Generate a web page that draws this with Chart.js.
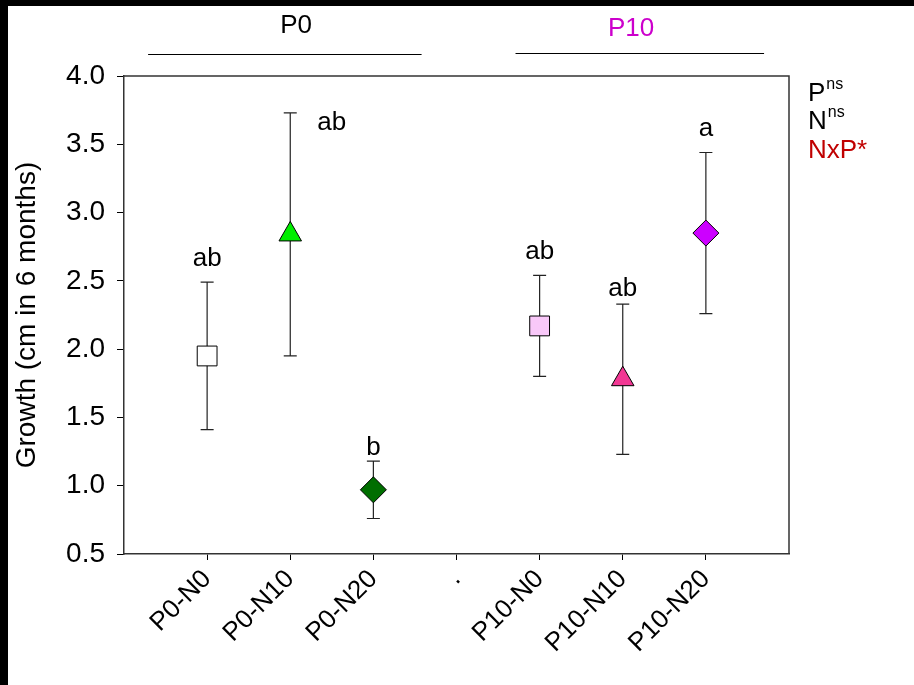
<!DOCTYPE html>
<html>
<head>
<meta charset="utf-8">
<script src="https://cdn.jsdelivr.net/npm/chart.js@4/dist/chart.umd.min.js"></script>
<style>
  html, body { margin: 0; padding: 0; background: #fff; }
  #wrap { width: 914px; height: 685px; }
</style>
</head>
<body>
<div id="wrap"><canvas id="graph" width="914" height="685"></canvas></div>
<script>
// Categories on the x axis ('.' is the empty gap between the two P groups)
var categories = ['P0-N0', 'P0-N10', 'P0-N20', '.', 'P10-N0', 'P10-N10', 'P10-N20'];

// Treatments actually measured
var treatments = ['P0-N0', 'P0-N10', 'P0-N20', 'P10-N0', 'P10-N10', 'P10-N20'];
var xPos = [1, 2, 3, 5, 6, 7];
var means = [1.95, 2.84, 0.97, 2.17, 1.78, 2.85];
var errors = [0.54, 0.89, 0.21, 0.37, 0.55, 0.59];

// Significance letters
var letters = ['ab', 'ab', 'b', 'ab', 'ab', 'a'];
var letterX = [1, 2.5, 3, 5, 6, 7];
var letterY = [2.66, 3.66, 1.28, 2.71, 2.44, 3.61];

// Marker look
var shapes = ['rect', 'triangle', 'rectRot', 'rect', 'triangle', 'rectRot'];
var sizes = [14, 13, 13, 14, 13, 13];
var fills = ['#ffffff', '#00ee00', '#006e00', '#f9c8f9', '#f23894', '#cc00ff'];

var yTicks = [0.5, 1.0, 1.5, 2.0, 2.5, 3.0, 3.5, 4.0];

var FONT = "'Liberation Sans', Arial, sans-serif";

var datasets = treatments.map(function (t, i) {
    return {
        label: t,
        data: [{ x: xPos[i], y: means[i], err: errors[i] }],
        pointStyle: shapes[i],
        pointRadius: sizes[i],
        pointHoverRadius: sizes[i],
        backgroundColor: fills[i],
        borderColor: '#000',
        borderWidth: 1
    };
});

// white page plus black strips on top and left edge
var pagePlugin = {
    id: 'page',
    beforeDraw: function (chart) {
        var ctx = chart.ctx;
        ctx.save();
        ctx.fillStyle = '#fff';
        ctx.fillRect(0, 0, chart.width, chart.height);
        ctx.fillStyle = '#000';
        ctx.fillRect(0, 0, chart.width, 6);
        ctx.fillRect(0, 0, 8, chart.height);
        ctx.restore();
    }
};

// error bars drawn under the markers
var errorBars = {
    id: 'errorBars',
    beforeDatasetsDraw: function (chart) {
        var ctx = chart.ctx, xs = chart.scales.x, ys = chart.scales.y;
        ctx.save();
        ctx.strokeStyle = '#222';
        ctx.lineWidth = 1.2;
        chart.data.datasets.forEach(function (ds) {
            ds.data.forEach(function (p) {
                var x = xs.getPixelForValue(p.x);
                var top = ys.getPixelForValue(p.y + p.err);
                var bot = ys.getPixelForValue(p.y - p.err);
                ctx.beginPath();
                ctx.moveTo(x, top); ctx.lineTo(x, bot);
                ctx.moveTo(x - 6.5, top); ctx.lineTo(x + 6.5, top);
                ctx.moveTo(x - 6.5, bot); ctx.lineTo(x + 6.5, bot);
                ctx.stroke();
            });
        });
        ctx.restore();
    }
};

// frame, letters, group headers and the stats note
var extras = {
    id: 'extras',
    afterDraw: function (chart) {
        var ctx = chart.ctx, a = chart.chartArea;
        var xs = chart.scales.x, ys = chart.scales.y;
        ctx.save();
        // top and right sides of the box
        ctx.strokeStyle = '#333';
        ctx.lineWidth = 1.5;
        ctx.beginPath();
        ctx.moveTo(a.left, a.top); ctx.lineTo(a.right, a.top); ctx.lineTo(a.right, a.bottom);
        ctx.stroke();

        // letters
        ctx.fillStyle = '#000';
        ctx.font = '26px ' + FONT;
        ctx.textAlign = 'center';
        ctx.textBaseline = 'middle';
        letters.forEach(function (l, i) {
            ctx.fillText(l, xs.getPixelForValue(letterX[i]), ys.getPixelForValue(letterY[i]));
        });

        // group headers
        ctx.font = '26px ' + FONT;
        ctx.fillStyle = '#000';
        ctx.fillText('P0', xs.getPixelForValue(2.07), a.top - 50);
        ctx.fillStyle = '#cc00cc';
        ctx.fillText('P10', xs.getPixelForValue(6.1), a.top - 47);
        ctx.strokeStyle = '#000';
        ctx.lineWidth = 1;
        ctx.beginPath();
        ctx.moveTo(xs.getPixelForValue(0.29), a.top - 21.5);
        ctx.lineTo(xs.getPixelForValue(3.58), a.top - 21.5);
        ctx.moveTo(xs.getPixelForValue(4.71), a.top - 22.5);
        ctx.lineTo(xs.getPixelForValue(7.70), a.top - 22.5);
        ctx.stroke();

        // stats note on the right
        var sx = a.right + 19;
        ctx.textAlign = 'left';
        ctx.textBaseline = 'alphabetic';
        var rows = [['P', 'ns', '#000', 101], ['N', 'ns', '#000', 129], ['NxP*', '', '#c00000', 158]];
        rows.forEach(function (r) {
            ctx.fillStyle = r[2];
            ctx.font = '26px ' + FONT;
            ctx.fillText(r[0], sx, r[3]);
            if (r[1]) {
                var w = ctx.measureText(r[0]).width;
                ctx.font = '16px ' + FONT;
                ctx.fillText(r[1], sx + w + 1, r[3] - 12);
            }
        });
        ctx.restore();
    }
};

var chart = new Chart(document.getElementById('graph'), {
    type: 'scatter',
    data: { datasets: datasets },
    plugins: [pagePlugin, errorBars, extras],
    options: {
        responsive: false,
        animation: false,
        layout: { padding: { top: 76, right: 125, left: 0, bottom: 0 } },
        plugins: {
            legend: { display: false },
            tooltip: { enabled: false }
        },
        scales: {
            x: {
                type: 'linear',
                min: 0,
                max: 8,
                afterBuildTicks: function (s) {
                    s.ticks = categories.map(function (c, i) { return { value: i + 1 }; });
                },
                afterFit: function (s) { s.height = 131; },
                grid: { drawOnChartArea: false, tickLength: 6, color: '#000', tickColor: '#000' },
                border: { color: '#333', width: 1.5 },
                ticks: {
                    autoSkip: false,
                    minRotation: 45,
                    maxRotation: 45,
                    padding: 4,
                    color: '#000',
                    font: { family: FONT, size: 26 },
                    callback: function (v) { return categories[v - 1] || ''; }
                }
            },
            y: {
                min: 0.5,
                max: 4.0,
                afterBuildTicks: function (s) {
                    s.ticks = yTicks.map(function (v) { return { value: v }; });
                },
                afterFit: function (s) { s.width = 124; },
                grid: { drawOnChartArea: false, tickLength: 7, color: '#000', tickColor: '#000' },
                border: { color: '#333', width: 1.5 },
                title: {
                    display: true,
                    text: 'Growth (cm in 6 months)',
                    color: '#000',
                    font: { family: FONT, size: 28 },
                    padding: { top: 10, bottom: 0 }
                },
                ticks: {
                    padding: 12,
                    color: '#000',
                    font: { family: FONT, size: 28 },
                    callback: function (v) { return v.toFixed(1); }
                }
            }
        }
    }
});
</script>
</body>
</html>
